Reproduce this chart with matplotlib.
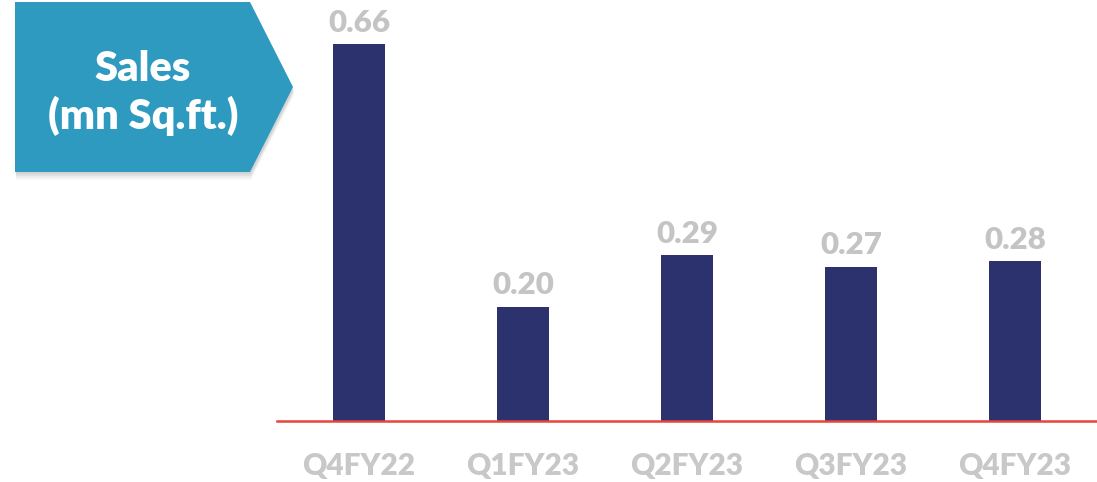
import matplotlib.pyplot as plt
from matplotlib.patches import Polygon

quarters = ["Q4FY22", "Q1FY23", "Q2FY23", "Q3FY23", "Q4FY23"]
sales = [0.66, 0.20, 0.29, 0.27, 0.28]

plt.rcParams['font.family'] = ['Lato', 'DejaVu Sans']

fig = plt.figure(figsize=(10.97, 4.82), dpi=100)
ax = fig.add_axes([277 / 1097, 61 / 482, 820 / 1097, 421 / 482])

x = range(len(quarters))
bars = ax.bar(x, sales, width=0.32, color='#2b326e')
for xi, v in zip(x, sales):
    ax.text(xi, v + 0.013, f"{v:.2f}", ha='center', va='bottom',
            fontsize=22.5, fontweight='heavy', color='#c4c4c4')

ax.set_xlim(-0.5, len(quarters) - 0.5)
ax.set_ylim(0, 0.737)
ax.set_xticks(list(x))
ax.set_xticklabels(quarters, fontsize=21.5, fontweight='heavy', color='#c8c8c8')
ax.tick_params(axis='x', length=0, pad=22)
ax.set_yticks([])
for side in ['top', 'right', 'left']:
    ax.spines[side].set_visible(False)
ax.spines['bottom'].set_color('#e5453a')
ax.spines['bottom'].set_linewidth(1.8)

# arrow-shaped badge with a soft shadow
W, H = 1097, 482
def to_fig(pts):
    return [(px / W, 1 - py / H) for px, py in pts]

badge = [(15, 2), (250, 2), (293, 87), (250, 172), (15, 172)]
for i, a in enumerate([0.06, 0.05, 0.04, 0.03]):
    off = 2 + i * 2
    shadow = Polygon(to_fig([(px + 1, py + off) for px, py in badge]),
                     closed=True, transform=fig.transFigure,
                     facecolor='black', alpha=a, edgecolor='none')
    fig.patches.append(shadow)
fig.patches.append(Polygon(to_fig(badge), closed=True, transform=fig.transFigure,
                           facecolor='#2e9ac0', edgecolor='none'))
fig.text(143 / W, 1 - 69 / H, "Sales", ha='center', va='center',
         fontsize=30, fontweight='heavy', color='white')
fig.text(143 / W, 1 - 116 / H, "(mn Sq.ft.)", ha='center', va='center',
         fontsize=30, fontweight='heavy', color='white')

fig.savefig('out.png', dpi=100)
